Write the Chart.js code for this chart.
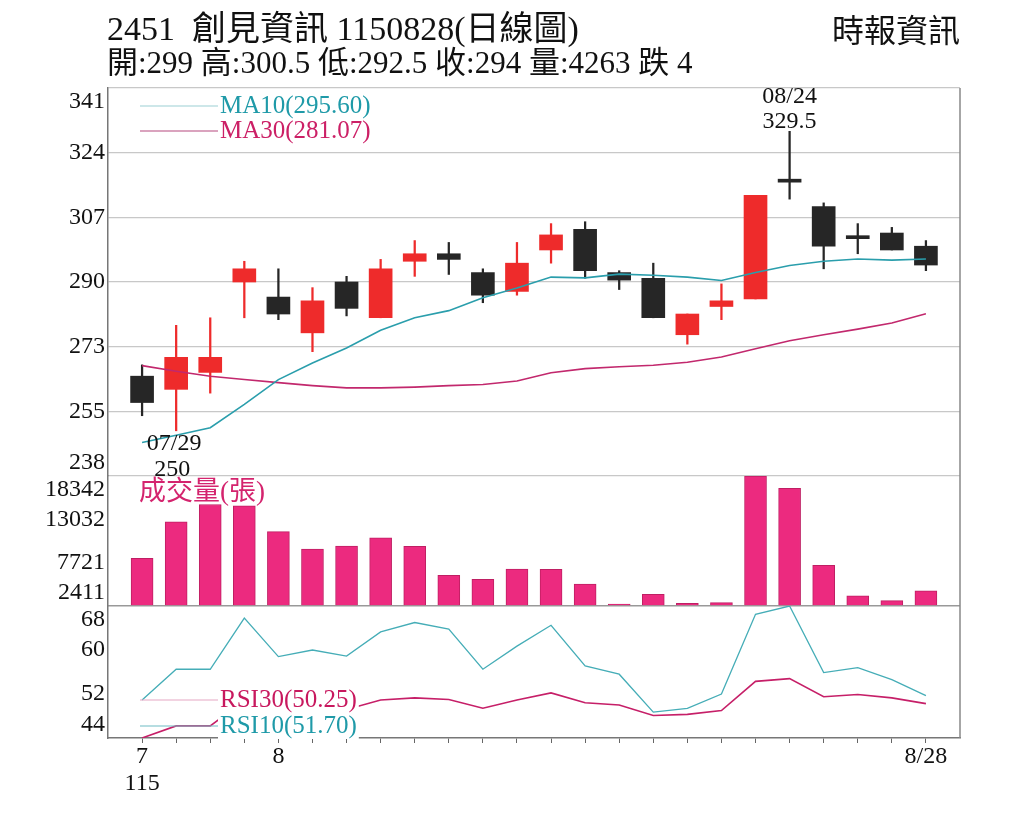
<!DOCTYPE html>
<html lang="zh-Hant">
<head>
    <meta charset="UTF-8">
    <title>創見資訊 日線圖</title>
    <script src="https://cdn.jsdelivr.net/npm/chart.js"></script>
    <style>
        html, body {
            margin: 0;
            padding: 0;
            background: #fff;
        }
        body {
            width: 1024px;
            height: 821px;
            position: relative;
            overflow: hidden;
            font-family: "Liberation Serif", "Noto Sans CJK TC", serif;
            color: #111;
        }
        canvas {
            position: absolute;
            left: 0;
            top: 0;
        }
        .head {
            position: absolute;
            white-space: pre;
            z-index: 2;
        }
        #title { left: 107px; top: 10px; font-size: 34px; line-height: 38px; }
        #quote { left: 107px; top: 45px; font-size: 31px; line-height: 36px; }
        #source { right: 64px; top: 12px; font-size: 32px; line-height: 38px; }
    </style>
</head>
<body>
    <canvas id="kChart" width="1024" height="821"></canvas>
    <div class="head" id="title"></div>
    <div class="head" id="quote"></div>
    <div class="head" id="source">時報資訊</div>

    <script>
        // 日線資料 (民國115年)
        const stockCode = '2451';
        const stockName = '創見資訊';
        const rocYear = '115';
        const dates = ['07/28', '07/29', '07/30', '07/31', '08/03', '08/04', '08/05', '08/06', '08/07', '08/10', '08/11', '08/12',
                       '08/13', '08/14', '08/17', '08/18', '08/19', '08/20', '08/21', '08/24', '08/25', '08/26', '08/27', '08/28'];
        const openPrices  = [264.5, 261, 265.5, 289.5, 285.5, 276, 289.5, 280, 295, 297, 292, 287,
                             298, 303.5, 292, 290.5, 275.5, 283, 285, 316.5, 309.5, 301.5, 302.5, 299];
        const highPrices  = [267.5, 278, 280, 295, 293, 288, 291, 295.5, 300.5, 300, 293, 300,
                             305, 305.5, 292.5, 294.5, 281, 289, 312.5, 329.5, 310.5, 305, 304, 300.5];
        const lowPrices   = [254, 250, 260, 280, 279.5, 271, 280.5, 280, 291, 291.5, 284, 286,
                             294.5, 290.5, 287.5, 280, 273, 279.5, 285, 311.5, 293, 297, 298, 292.5];
        const closePrices = [257.5, 269.5, 269.5, 293, 281, 284.5, 282.5, 293, 297, 295.5, 286, 294.5,
                             302, 292.5, 290, 280, 281, 284.5, 312.5, 316, 299, 301, 298, 294];
        const volumes = [8260, 12740, 14850, 14700, 11520, 9400, 9760, 10780, 9730, 6170, 5680, 6950,
                         6910, 5110, 2411, 3850, 2740, 2820, 18342, 16840, 7400, 3670, 3060, 4263];
        const ma10 = [246.9, 248.8, 250.8, 257.0, 263.6, 268.0, 272.0, 276.7, 280.0, 281.9, 285.3, 287.9,
                      290.8, 290.6, 291.6, 291.3, 290.8, 289.9, 292.0, 293.9, 295.0, 295.6, 295.3, 295.60];
        const ma30 = [267.3, 265.8, 264.5, 263.6, 262.8, 262.0, 261.4, 261.4, 261.6, 262.0, 262.3, 263.2,
                      265.4, 266.5, 267.0, 267.4, 268.2, 269.6, 271.8, 273.9, 275.5, 277.0, 278.6, 281.07];
        const rsi10 = [50.9, 56.5, 56.5, 65.8, 58.8, 60.0, 58.9, 63.3, 65.0, 63.8, 56.5, 60.7,
                       64.5, 57.1, 55.6, 48.7, 49.4, 52.0, 66.5, 68.0, 55.9, 56.8, 54.6, 51.70];
        const rsi30 = [44.0, 46.2, 46.2, 50.8, 49.3, 49.8, 49.2, 50.9, 51.3, 51.0, 49.4, 50.9,
                       52.2, 50.4, 50.0, 48.1, 48.3, 49.0, 54.3, 54.8, 51.5, 51.9, 51.3, 50.25];

        // 軸刻度
        const priceTicks = ['238', '255', '273', '290', '307', '324', '341'];
        const volumeTicks = [2411, 7721, 13032, 18342];
        const rsiTicks = [44, 52, 60, 68];

        const upColor = '#ee2b2b';
        const downColor = '#262626';
        const last = dates.length - 1;

        // 標題文字
        const change = closePrices[last] - closePrices[last - 1];
        document.getElementById('title').textContent =
            stockCode + '  ' + stockName + ' ' + rocYear + dates[last].replace('/', '') + '(日線圖)';
        document.getElementById('quote').textContent =
            '開:' + openPrices[last] + ' 高:' + highPrices[last] + ' 低:' + lowPrices[last] +
            ' 收:' + closePrices[last] + ' 量:' + volumes[last] + ' ' + (change < 0 ? '跌' : '漲') + ' ' + Math.abs(change);

        const candleColors = dates.map((d, i) => closePrices[i] >= openPrices[i] ? upColor : downColor);
        const xy = (arr) => arr.map((v, i) => ({ x: i, y: v }));

        function xLabel(i) {
            if (i === last) return dates[i].replace(/^0/, '');
            const m = dates[i].slice(0, 2);
            if (i === 0) return [String(+m), rocYear];
            if (m !== dates[i - 1].slice(0, 2)) return String(+m);
            return '';
        }

        function evenTicks(scale, n) {
            const ticks = [];
            for (let k = 0; k < n; k++) {
                ticks.push({ value: scale.min + k * (scale.max - scale.min) / (n - 1) });
            }
            scale.ticks = ticks;
        }

        // 左側刻度字、圖例、最高最低標示
        const decorations = {
            id: 'decorations',
            afterDraw(chart) {
                const ctx = chart.ctx;
                const area = chart.chartArea;
                const x = chart.scales.x;
                const yp = chart.scales.yp, yv = chart.scales.yv, yr = chart.scales.yr;
                ctx.save();

                // 右框線
                ctx.strokeStyle = '#888';
                ctx.lineWidth = 1.5;
                ctx.beginPath();
                ctx.moveTo(area.right, area.top);
                ctx.lineTo(area.right, area.bottom);
                ctx.stroke();

                // 刻度字
                ctx.font = '24px "Liberation Serif"';
                ctx.fillStyle = '#111';
                ctx.textAlign = 'right';
                [[yp, priceTicks], [yv, volumeTicks], [yr, rsiTicks]].forEach(([s, labels]) => {
                    s.ticks.forEach((t, k) => {
                        let y = s.getPixelForValue(t.value);
                        if (k === labels.length - 1) { ctx.textBaseline = 'top'; y = s.top + 2; }
                        else if (k === 0) { ctx.textBaseline = 'bottom'; y = s.bottom - 1; }
                        else ctx.textBaseline = 'middle';
                        ctx.fillText(String(labels[k]), s.left - 3, y);
                    });
                });

                // 最低、最高價標示
                ctx.textAlign = 'center';
                const iLow = lowPrices.indexOf(Math.min(...lowPrices));
                const iHigh = highPrices.indexOf(Math.max(...highPrices));
                let px = x.getPixelForValue(iLow), py = yp.getPixelForValue(lowPrices[iLow]);
                ctx.textBaseline = 'top';
                ctx.fillText(dates[iLow], px - 2, py + 1);
                ctx.fillText(String(lowPrices[iLow]), px - 4, py + 27);
                px = x.getPixelForValue(iHigh);
                py = yp.getPixelForValue(highPrices[iHigh]);
                ctx.textBaseline = 'bottom';
                ctx.fillText(String(highPrices[iHigh]), px, py + 2);
                ctx.fillText(dates[iHigh], px, py - 23);

                // 圖例
                const legend = (y, lineColor, textColor, text, blank) => {
                    ctx.strokeStyle = lineColor;
                    ctx.lineWidth = 1.2;
                    ctx.beginPath();
                    ctx.moveTo(area.left + 32, y);
                    ctx.lineTo(area.left + 110, y);
                    ctx.stroke();
                    ctx.textAlign = 'left';
                    ctx.textBaseline = 'middle';
                    if (blank) {
                        ctx.fillStyle = '#fff';
                        ctx.fillRect(area.left + 110, y - 13, ctx.measureText(text).width + 4, 26);
                    }
                    ctx.fillStyle = textColor;
                    ctx.fillText(text, area.left + 112, y);
                };
                ctx.font = '25px "Liberation Serif"';
                legend(yp.top + 18, '#9ccfd4', '#1f9aa8', 'MA10(' + ma10[last].toFixed(2) + ')', false);
                legend(yp.top + 43, '#b5487f', '#cc2066', 'MA30(' + ma30[last].toFixed(2) + ')', false);
                legend(yr.bottom - 38, '#e6a7c4', '#c8185e', 'RSI30(' + rsi30[last].toFixed(2) + ')', true);
                legend(yr.bottom - 12, '#6fbcc4', '#1f9aa8', 'RSI10(' + rsi10[last].toFixed(2) + ')', true);

                ctx.font = '27px "Liberation Serif", "Noto Sans CJK TC"';
                ctx.fillStyle = '#d4246e';
                ctx.textAlign = 'left';
                ctx.textBaseline = 'middle';
                ctx.fillText('成交量(張)', area.left + 31, yv.top + 17);
                ctx.restore();
            }
        };

        const ctx = document.getElementById('kChart').getContext('2d');
        const kChart = new Chart(ctx, {
            data: {
                datasets: [
                    { type: 'line', label: 'MA10', yAxisID: 'yp', data: xy(ma10), borderColor: '#2a9eac', borderWidth: 1.6, pointRadius: 0, order: 0 },
                    { type: 'line', label: 'MA30', yAxisID: 'yp', data: xy(ma30), borderColor: '#c2286d', borderWidth: 1.6, pointRadius: 0, order: 0 },
                    {
                        type: 'bar', label: 'K', yAxisID: 'yp',
                        data: dates.map((d, i) => ({ x: i, y: [openPrices[i], closePrices[i]] })),
                        backgroundColor: candleColors, barThickness: 23, minBarLength: 3, grouped: false, order: 1
                    },
                    {
                        type: 'bar', label: 'HL', yAxisID: 'yp',
                        data: dates.map((d, i) => ({ x: i, y: [lowPrices[i], highPrices[i]] })),
                        backgroundColor: candleColors, barThickness: 1.6, grouped: false, order: 2
                    },
                    {
                        type: 'bar', label: '成交量', yAxisID: 'yv', data: xy(volumes), base: volumeTicks[0],
                        backgroundColor: '#ec2a7f', borderColor: '#bf1f63', borderWidth: 1, barThickness: 22,
                        minBarLength: 2, grouped: false, order: 1
                    },
                    { type: 'line', label: 'RSI10', yAxisID: 'yr', data: xy(rsi10), borderColor: '#45adb7', borderWidth: 1.3, pointRadius: 0, order: 0 },
                    { type: 'line', label: 'RSI30', yAxisID: 'yr', data: xy(rsi30), borderColor: '#c61f68', borderWidth: 1.6, pointRadius: 0, order: 0 }
                ]
            },
            options: {
                responsive: false,
                animation: false,
                devicePixelRatio: 1,
                layout: { padding: { left: 108, right: 64, top: 88, bottom: 13 } },
                plugins: { legend: { display: false }, tooltip: { enabled: false } },
                scales: {
                    x: {
                        type: 'linear', min: -1, max: dates.length, offset: false,
                        afterBuildTicks: (s) => { s.ticks = dates.map((d, i) => ({ value: i })); },
                        afterFit: (s) => { s.height = 70; s.paddingLeft = 0; s.paddingRight = 0; },
                        grid: { offset: false, drawOnChartArea: false, drawTicks: true, tickLength: 5, color: '#666' },
                        border: { display: true, color: '#777', width: 1.5 },
                        ticks: {
                            autoSkip: false, maxRotation: 0, padding: 1, color: '#111',
                            font: { family: 'Liberation Serif', size: 24, lineHeight: 1.1 },
                            callback: (v) => xLabel(v)
                        }
                    },
                    yp: {
                        type: 'linear', position: 'left', stack: 'panels', stackWeight: 388, weight: 3,
                        min: +priceTicks[0], max: +priceTicks[priceTicks.length - 1],
                        afterBuildTicks: (s) => evenTicks(s, priceTicks.length),
                        afterFit: (s) => { s.width = 0; },
                        grid: { color: '#c8c8c8', lineWidth: 1.3, drawTicks: false },
                        border: { display: true, color: '#777', width: 1.5 },
                        ticks: { display: false }
                    },
                    yv: {
                        type: 'linear', position: 'left', stack: 'panels', stackWeight: 130, weight: 2,
                        min: volumeTicks[0], max: volumeTicks[volumeTicks.length - 1],
                        afterBuildTicks: (s) => { s.ticks = volumeTicks.map(v => ({ value: v })); },
                        afterFit: (s) => { s.width = 0; },
                        grid: { color: (c) => c.index === 0 ? '#999' : 'rgba(0,0,0,0)', lineWidth: 1.5, drawTicks: false },
                        border: { display: true, color: '#777', width: 1.5 },
                        ticks: { display: false }
                    },
                    yr: {
                        type: 'linear', position: 'left', stack: 'panels', stackWeight: 132, weight: 1,
                        min: rsiTicks[0], max: rsiTicks[rsiTicks.length - 1],
                        afterBuildTicks: (s) => { s.ticks = rsiTicks.map(v => ({ value: v })); },
                        afterFit: (s) => { s.width = 0; },
                        grid: { display: false },
                        border: { display: true, color: '#777', width: 1.5 },
                        ticks: { display: false }
                    }
                }
            },
            plugins: [decorations]
        });
    </script>
</body>
</html>
